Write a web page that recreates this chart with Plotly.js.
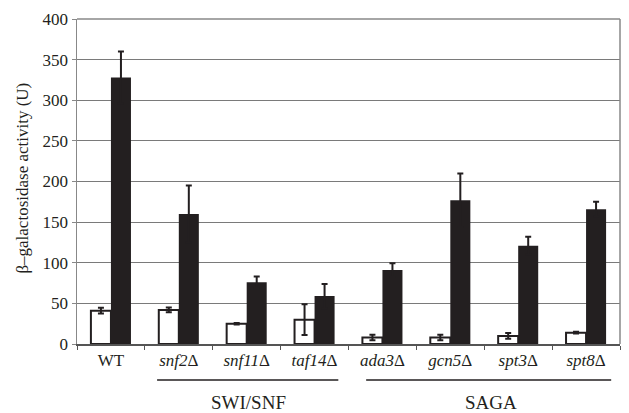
<!DOCTYPE html>
<html>
<head>
<meta charset="utf-8">
<script src="https://cdn.plot.ly/plotly-3.0.1.min.js"></script>
<style>html,body{margin:0;padding:0;background:#fff;}#chart{width:629px;height:413px;}</style>
</head>
<body>
<div id="chart"></div>
<script>
var categories = ["WT", "<i>snf2</i>Δ", "<i>snf11</i>Δ", "<i>taf14</i>Δ", "<i>ada3</i>Δ", "<i>gcn5</i>Δ", "<i>spt3</i>Δ", "<i>spt8</i>Δ"];
var whiteValues = [41, 42, 25, 30, 8, 8, 10, 14];
var whiteErrors = [3.5, 3, 1, 19, 3.5, 3.5, 3.5, 1];
var blackValues = [328, 160, 76, 59, 91, 177, 121, 166];
var blackErrors = [32, 35, 7, 15, 8.5, 33, 11, 9];
var groupLabels = ["SWI/SNF", "SAGA"];

var serif = "'Liberation Serif', 'Times New Roman', serif";

var traceWhite = {
  type: "bar", x: categories, y: whiteValues,
  marker: {color: "#ffffff", line: {color: "#231f20", width: 2}},
  error_y: {type: "data", array: whiteErrors, visible: true, color: "#231f20", thickness: 2, width: 3},
  hoverinfo: "none"
};
var traceBlack = {
  type: "bar", x: categories, y: blackValues,
  marker: {color: "#231f20", line: {color: "#231f20", width: 0}},
  error_y: {type: "data", array: blackErrors, visible: true, color: "#231f20", thickness: 2, width: 3},
  hoverinfo: "none"
};

var layout = {
  width: 629, height: 413,
  margin: {l: 77, r: 9, t: 19, b: 69},
  paper_bgcolor: "#ffffff", plot_bgcolor: "#ffffff",
  showlegend: false,
  barmode: "group",
  bargap: 0.41, bargroupgap: 0,
  font: {family: serif, color: "#231f20"},
  xaxis: {
    type: "category",
    showline: true, linecolor: "#555555", linewidth: 1.5,
    ticks: "outside", tickson: "boundaries", ticklen: 4, tickcolor: "#555555",
    tickfont: {family: serif, size: 17, color: "#231f20"},
    showgrid: false, mirror: false
  },
  yaxis: {
    range: [0, 400], dtick: 50,
    showline: true, linecolor: "#888888", linewidth: 1.5,
    ticks: "outside", ticklen: 4, tickcolor: "#888888",
    tickfont: {family: serif, size: 17, color: "#231f20"},
    showgrid: true, gridcolor: "#7a7a7a", gridwidth: 1.2,
    zeroline: false
  },
  shapes: [
    {type: "line", xref: "paper", yref: "paper", x0: 0, x1: 1, y0: 1, y1: 1, line: {color: "#888888", width: 1.5}},
    {type: "line", xref: "paper", yref: "paper", x0: 1, x1: 1, y0: 0, y1: 1, line: {color: "#888888", width: 1.5}},
    {type: "line", xref: "x", yref: "paper", x0: 0.68, x1: 3.35, y0: -0.111, y1: -0.111, line: {color: "#231f20", width: 1.5}},
    {type: "line", xref: "x", yref: "paper", x0: 3.76, x1: 7.37, y0: -0.111, y1: -0.111, line: {color: "#231f20", width: 1.5}}
  ],
  annotations: [
    {text: "β–galactosidase activity (U)", xref: "paper", yref: "paper", x: -0.0994, y: 0.509,
     textangle: -90, showarrow: false, xanchor: "center", yanchor: "middle",
     font: {family: serif, size: 17, color: "#231f20"}},
    {text: groupLabels[0], xref: "x", yref: "paper", x: 2.03, y: -0.18, showarrow: false,
     xanchor: "center", yanchor: "middle", font: {family: serif, size: 19, color: "#231f20"}},
    {text: groupLabels[1], xref: "x", yref: "paper", x: 5.6, y: -0.18, showarrow: false,
     xanchor: "center", yanchor: "middle", font: {family: serif, size: 19, color: "#231f20"}}
  ]
};

Plotly.newPlot("chart", [traceWhite, traceBlack], layout, {displayModeBar: false, staticPlot: true});
</script>
</body>
</html>
